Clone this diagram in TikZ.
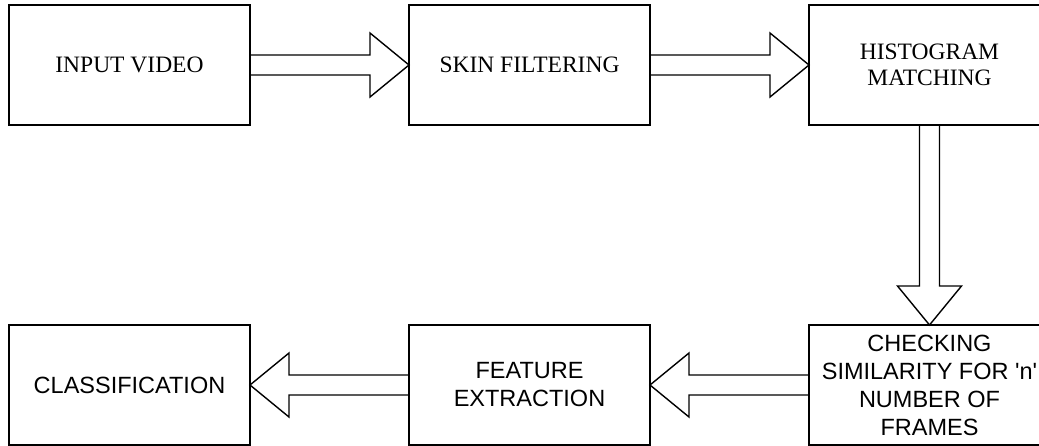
\documentclass[tikz,border=0pt]{standalone}
\usepackage{fontspec}
\setmainfont{Liberation Serif}
\newfontfamily\boxsans{Liberation Sans}
\usetikzlibrary{calc}

% Hollow block arrow from anchor #1 to anchor #2
\newcommand{\blockarr}[2]{%
  \coordinate (ba-h) at ($(#2)!39pt!(#1)$);
  \draw[arrowline]
    ($(#1)!10pt!90:(#2)$) -- ($(ba-h)!10pt!90:(#2)$) -- ($(ba-h)!32pt!90:(#2)$)
    -- (#2)
    -- ($(ba-h)!32pt!-90:(#2)$) -- ($(ba-h)!10pt!-90:(#2)$) -- ($(#1)!10pt!-90:(#2)$);
}

\begin{document}
\begin{tikzpicture}[x=1pt,y=-1pt,
  stage/.style={draw=black, line width=1.8pt, minimum width=241pt, minimum height=120pt,
    inner sep=0pt, outer sep=0pt, align=center},
  serifstage/.style={stage, font=\fontsize{23.5}{26}\selectfont},
  sansstage/.style={stage, font=\boxsans\fontsize{23.5}{28}\selectfont},
  arrowline/.style={draw=black, line width=1.4pt, line join=miter, fill=none}]
\useasboundingbox (0,0) rectangle (1039,445);

% top row
\node[serifstage] (input) at (129.5,65) {INPUT VIDEO};
\node[serifstage] (skin)  at (529.5,65) {SKIN FILTERING};
\node[serifstage] (hist)  at (929.5,65) {HISTOGRAM\\MATCHING};

% bottom row
\node[sansstage] (classif) at (129.5,385) {CLASSIFICATION};
\node[sansstage] (feat)    at (529.5,385) {FEATURE\\EXTRACTION};
\node[sansstage] (check)   at (929.5,385) {CHECKING\\SIMILARITY FOR \textquotesingle n\textquotesingle\\NUMBER OF\\FRAMES};

% connectors
\blockarr{input.east}{skin.west}
\blockarr{skin.east}{hist.west}
\blockarr{hist.south}{check.north}
\blockarr{check.west}{feat.east}
\blockarr{feat.west}{classif.east}
\end{tikzpicture}
\end{document}
